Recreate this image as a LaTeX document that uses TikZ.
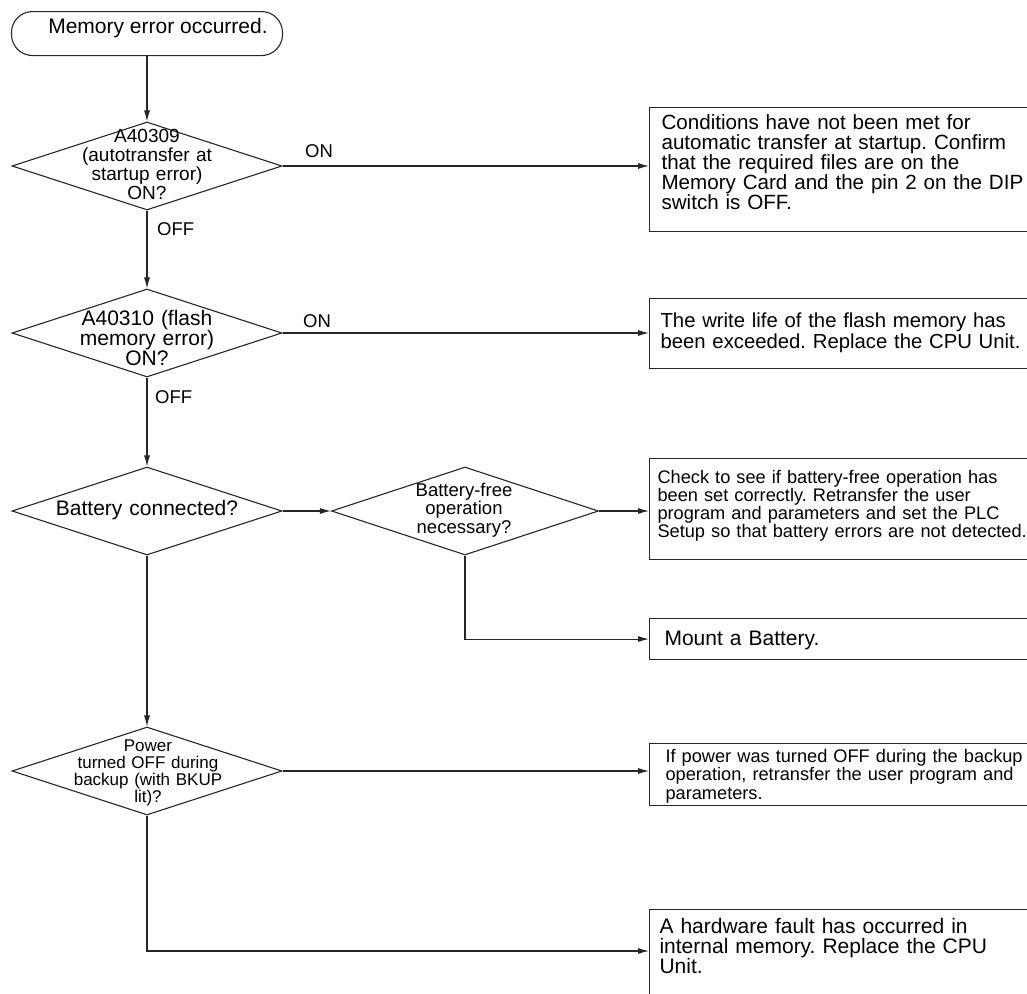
\documentclass[tikz,border=0pt]{standalone}
\usepackage{fontspec}
\setmainfont{Liberation Sans}
\frenchspacing
\usetikzlibrary{shapes.geometric,arrows.meta}
\tikzset{
  ln/.style={draw=black!85, line width=1.1pt},
  arr/.style={ln, -{Latex[length=11pt,width=6pt]}},
  dia/.style={diamond, draw=black!85, line width=1.1pt, minimum width=270pt, minimum height=88pt, inner sep=0pt},
  bx/.style={draw=black!85, line width=1.1pt, rectangle, anchor=north west, inner ysep=0pt, align=left, text width=400pt},
  dtext/.style={anchor=base, align=center, text width=250pt, inner sep=0pt},
  lbl/.style={anchor=base west, inner sep=0pt, font=\fontsize{18.5}{20}\selectfont}
}
\begin{document}
\begin{tikzpicture}[x=1pt,y=-1pt]
\useasboundingbox (0,0) rectangle (1027,993);
\clip (0,0) rectangle (1027,993);

% start
\node[draw=black!85, line width=1.1pt, rounded corners=21pt, anchor=north, minimum width=271pt, inner ysep=0pt, inner xsep=0pt,
  text height=22.3pt, text depth=21.7pt, font=\fontsize{21}{21}\selectfont] (start) at (147,11) {\hspace*{22pt}Memory error occurred.};

% diamonds
\node[dia] (d1) at (147,166) {};
\node[dia] (d2) at (147,333) {};
\node[dia] (d3) at (147,511) {};
\node[dia, minimum width=267pt] (d4) at (465,511) {};
\node[dia] (d5) at (147,771) {};

\node[dtext, font=\fontsize{19}{19.2}\selectfont] (d1t) at (147,142) {A40309\\(autotransfer at\\startup error)\\ON?};
\node[dtext, font=\fontsize{21}{20}\selectfont] (d2t) at (147,325) {A40310 (flash\\memory error)\\ON?};
\node[dtext, font=\fontsize{21}{20}\selectfont] (d3t) at (147,515) {Battery connected?};
\node[dtext, font=\fontsize{18.5}{18.5}\selectfont] (d4t) at (464,496) {Battery-free\\operation\\necessary?};
\node[dtext, font=\fontsize{17}{17.3}\selectfont] (d5t) at (148,751) {Power\\turned OFF during\\backup (with BKUP\\lit)?};

% boxes
\node[bx, inner xsep=12pt, text height=22pt, text depth=102pt, font=\fontsize{20.6}{20}\selectfont] (b1) at (649,107)
  {Conditions have not been met for\\automatic transfer at startup. Confirm\\that the required files are on the\\Memory Card and the pin 2 on the DIP\\switch is OFF.};
\node[bx, inner xsep=11pt, text height=29pt, text depth=41pt, font=\fontsize{20.3}{21}\selectfont] (b2) at (649,298)
  {The write life of the flash memory has\\been exceeded. Replace the CPU Unit.};
\node[bx, inner xsep=8pt, text height=25pt, text depth=76pt, font=\fontsize{18.2}{18}\selectfont] (b3) at (649,458)
  {Check to see if battery-free operation has\\been set correctly. Retransfer the user\\program and parameters and set the PLC\\Setup so that battery errors are not detected.};
\node[bx, inner xsep=15pt, text height=27pt, text depth=14pt, font=\fontsize{21}{21}\selectfont] (b4) at (649,618)
  {Mount a Battery.};
\node[bx, inner xsep=16pt, text height=19pt, text depth=43pt, font=\fontsize{18.2}{18.3}\selectfont] (b5) at (649,743)
  {If power was turned OFF during the backup\\operation, retransfer the user program and\\parameters.};
\node[bx, inner xsep=10pt, text height=24pt, text depth=100pt, font=\fontsize{21}{19.5}\selectfont] (b6) at (649,909)
  {A hardware fault has occurred in\\internal memory. Replace the CPU\\Unit.};
\coordinate (b6in) at (649,951);

% labels
\node[lbl] (on1) at (305,157) {ON};
\node[lbl] (off1) at (157,235) {OFF};
\node[lbl] (on2) at (303,327) {ON};
\node[lbl] (off2) at (155,403) {OFF};

% connectors
\draw[arr] (start.south) -- (d1.north);
\draw[arr] (d1.south) -- (d2.north);
\draw[arr] (d2.south) -- (d3.north);
\draw[arr] (d3.south) -- (d5.north);
\draw[arr] (d3.east) -- (d4.west);
\draw[arr] (d1.east) -- (d1.east -| b1.west);
\draw[arr] (d2.east) -- (d2.east -| b2.west);
\draw[arr] (d4.east) -- (d4.east -| b3.west);
\draw[arr] (d4.south) |- (b4.west);
\draw[arr] (d5.east) -- (d5.east -| b5.west);
\draw[arr] (d5.south) |- (b6in);
\end{tikzpicture}
\end{document}
